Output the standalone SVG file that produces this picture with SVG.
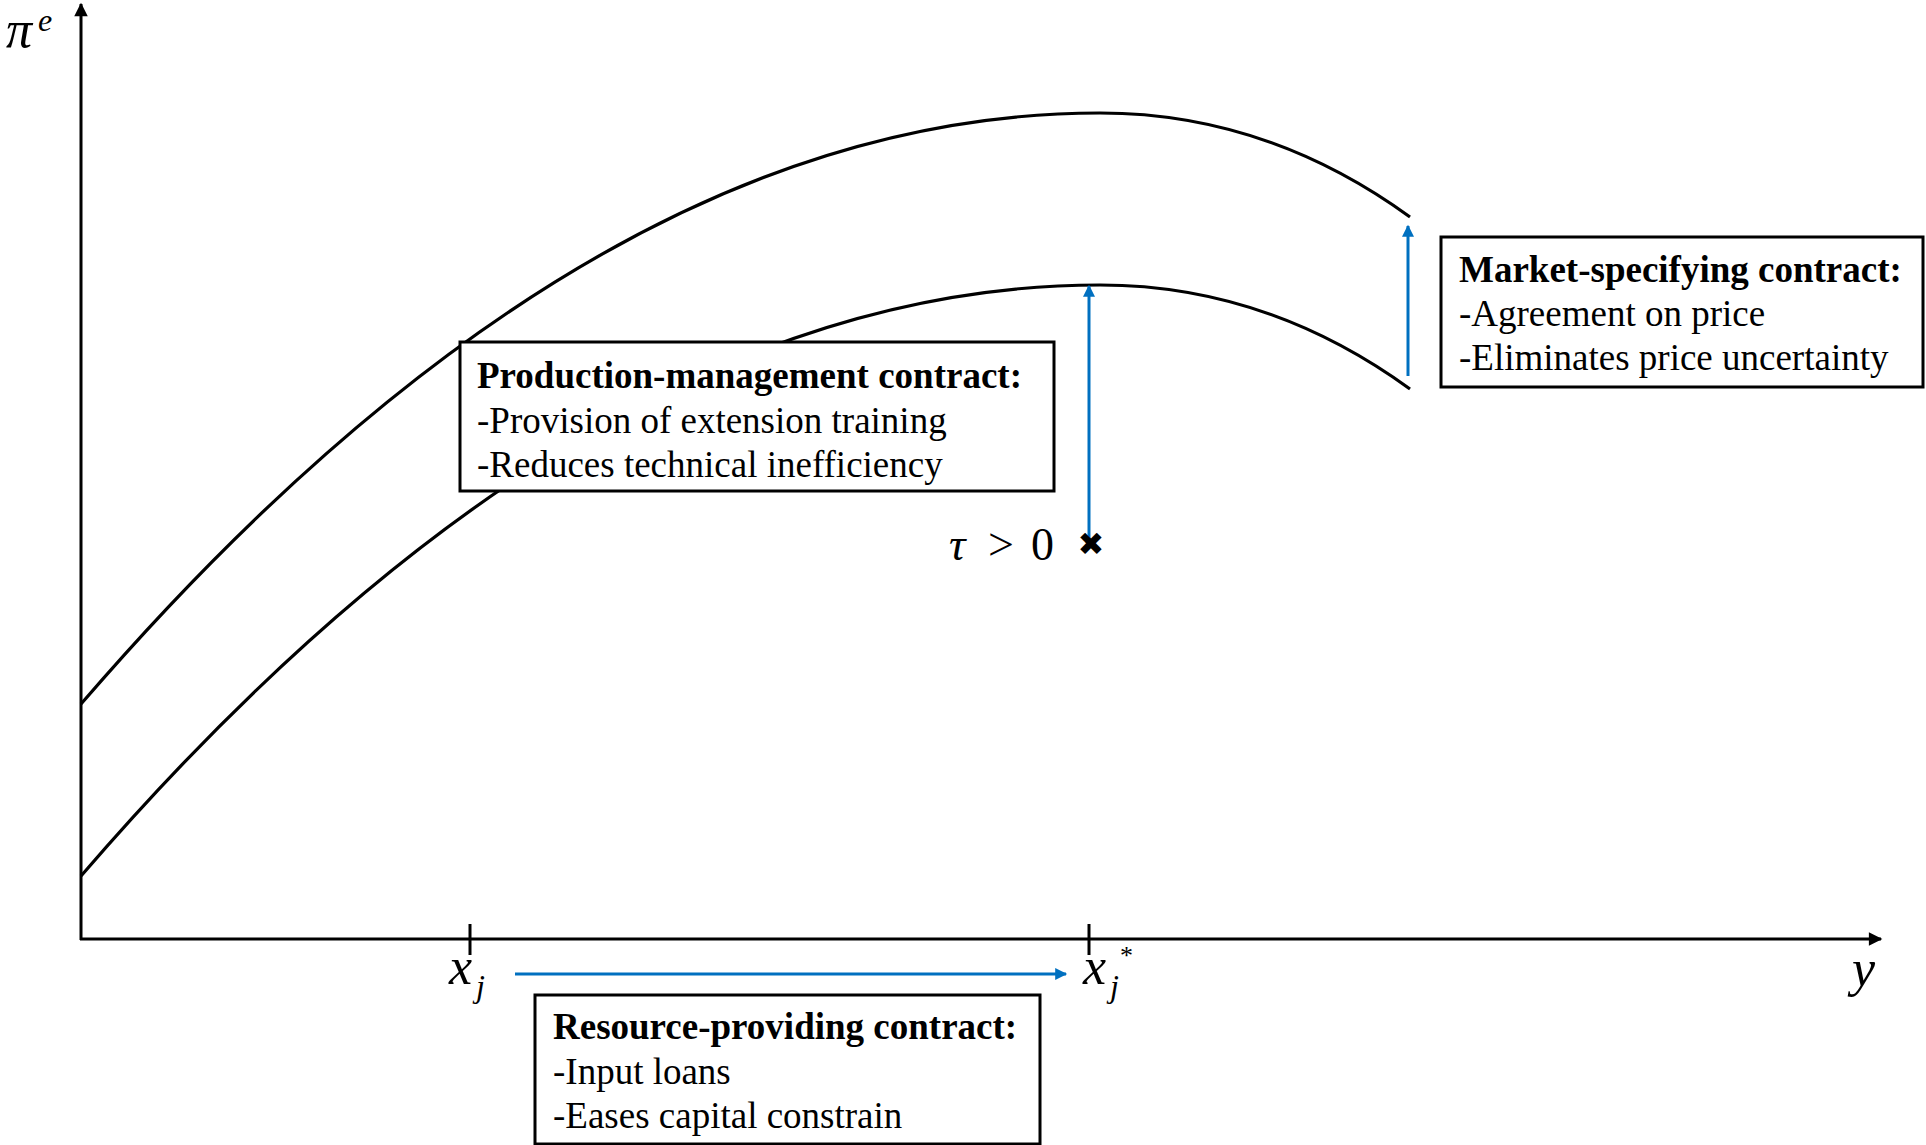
<svg xmlns="http://www.w3.org/2000/svg" xmlns:xlink="http://www.w3.org/1999/xlink" width="1926" height="1145" viewBox="0 0 1926 1145">
<style>
.ax{stroke:#000;stroke-width:3;fill:none}
.cv{stroke:#000;stroke-width:3.2;fill:none}
.bl{stroke:#0070C0;stroke-width:3;fill:none}
.box{fill:#fff;stroke:#000;stroke-width:3}
.t{font-family:"Liberation Serif","Times New Roman",serif;font-size:37px;fill:#000}
.b{font-weight:bold}
.m{font-family:"Liberation Serif","Times New Roman",serif;font-style:italic;fill:#000}
.mu{font-family:"Liberation Serif","Times New Roman",serif;fill:#000}
</style>
<defs>
<marker id="ka" viewBox="0 0 10 10" refX="9" refY="5" markerWidth="5" markerHeight="4.5" orient="auto" markerUnits="strokeWidth"><path d="M0,0 L10,5 L0,10 z" fill="#000"/></marker>
<marker id="ba" viewBox="0 0 10 10" refX="9" refY="5" markerWidth="5" markerHeight="4" orient="auto" markerUnits="strokeWidth"><path d="M0,0 L10,5 L0,10 z" fill="#0070C0"/></marker>
<path id="curve" d="M81,704 Q590.5,113 1100,113 C1203.3,113 1306.7,141.9 1410,217"/>
</defs>
<rect width="1926" height="1145" fill="#fff"/>
<g id="axes">
<line class="ax" x1="81" y1="940" x2="81" y2="4" marker-end="url(#ka)"/>
<line class="ax" x1="80" y1="939" x2="1881" y2="939" marker-end="url(#ka)"/>
<line class="ax" x1="470" y1="924" x2="470" y2="955"/>
<line class="ax" x1="1089" y1="924" x2="1089" y2="955"/>
<text class="m" x="6" y="47" font-size="52">π</text>
<text class="m" x="38" y="31" font-size="32">e</text>
<text class="m" x="449" y="984" font-size="52">x</text>
<text class="m" x="476" y="997" font-size="32">j</text>
<text class="m" x="1083" y="984" font-size="52">x</text>
<text class="m" x="1110" y="997" font-size="32">j</text>
<text class="mu" x="1120" y="964" font-size="26">*</text>
<text class="m" x="1852" y="986" font-size="52">y</text>
</g>
<g id="curves">
<use xlink:href="#curve" class="cv"/>
<use xlink:href="#curve" class="cv" transform="translate(0,172)"/>
</g>
<g id="connectors">
<line class="bl" x1="515" y1="974" x2="1066" y2="974" marker-end="url(#ba)"/>
<line class="bl" x1="1089" y1="540" x2="1089" y2="286" marker-end="url(#ba)"/>
<line class="bl" x1="1408" y1="376" x2="1408" y2="226" marker-end="url(#ba)"/>
</g>
<g id="tau">
<text class="mu" y="560" font-size="46"><tspan x="949" font-style="italic">τ</tspan><tspan x="988">&gt;</tspan><tspan x="1031">0</tspan></text>
<text x="1091" y="555" font-family="DejaVu Sans,sans-serif" font-size="32" text-anchor="middle">✖</text>
</g>
<g id="production-management">
<rect class="box" x="460" y="342" width="594" height="149"/>
<text class="t b" x="477" y="388">Production-management contract:</text>
<text class="t" x="477" y="433">-Provision of extension training</text>
<text class="t" x="477" y="477">-Reduces technical inefficiency</text>
</g>
<g id="market-specifying">
<rect class="box" x="1441" y="237" width="482" height="150"/>
<text class="t b" x="1459" y="282">Market-specifying contract:</text>
<text class="t" x="1459" y="326">-Agreement on price</text>
<text class="t" x="1459" y="370">-Eliminates price uncertainty</text>
</g>
<g id="resource-providing">
<rect class="box" x="535" y="995" width="505" height="149"/>
<text class="t b" x="553" y="1039">Resource-providing contract:</text>
<text class="t" x="553" y="1084">-Input loans</text>
<text class="t" x="553" y="1128">-Eases capital constrain</text>
</g>
</svg>
